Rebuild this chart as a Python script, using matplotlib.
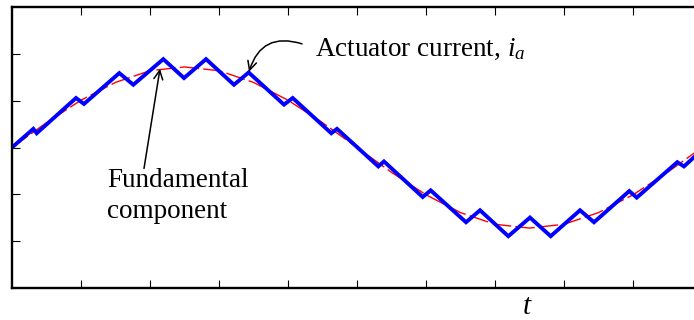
import matplotlib
matplotlib.use("Agg")
import matplotlib.pyplot as plt

plt.rcParams['font.family'] = ['Liberation Serif', 'DejaVu Serif']
plt.rcParams['mathtext.fontset'] = 'custom'
plt.rcParams['mathtext.rm'] = 'Liberation Serif'
plt.rcParams['mathtext.it'] = 'Liberation Serif:italic'

# hysteresis current (vertices)
t_cur = [0.0, 0.309, 0.358, 0.928, 1.043, 1.555, 1.758, 2.193, 2.493, 2.812,
         3.217, 3.430, 3.942, 4.068, 4.628, 4.710, 5.309, 5.391, 5.952, 6.068,
         6.580, 6.783, 7.193, 7.507, 7.807, 8.232, 8.435, 8.946, 9.054, 9.642,
         9.739, 10.0]
i_cur = [0.0, 0.398, 0.304, 1.057, 0.930, 1.589, 1.340, 1.887, 1.483, 1.887,
         1.340, 1.602, 0.915, 1.057, 0.304, 0.398, -0.404, -0.298, -1.057, -0.915,
         -1.596, -1.340, -1.894, -1.496, -1.894, -1.340, -1.596, -0.930, -1.070, -0.313,
         -0.404, -0.05]

# fundamental component (red dashed), read every half tick
t_fund = [0.0, 0.5, 1.0, 1.5, 2.0, 2.5, 3.0, 3.5, 4.0, 4.5, 5.0,
          5.5, 6.0, 6.5, 7.0, 7.5, 8.0, 8.5, 9.0, 9.5, 10.0]
i_fund = [0.0, 0.53, 1.01, 1.39, 1.64, 1.72, 1.64, 1.39, 1.01, 0.53, 0.0,
          -0.53, -1.01, -1.39, -1.64, -1.72, -1.64, -1.39, -1.01, -0.53, 0.0]

x_ticks = [1, 2, 3, 4, 5, 6, 7, 8, 9]
y_ticks = [-2, -1, 0, 1, 2]

fig = plt.figure(figsize=(6.94, 3.2), dpi=100)
ax = fig.add_axes([12 / 694, 32 / 320, 690 / 694, 281 / 320])

ax.plot(t_fund, i_fund, color='red', lw=1.0, dashes=(14, 3))
ax.plot(t_cur, i_cur, color='#0000ff', lw=2.8, solid_joinstyle='miter')

ax.set_xlim(0, 10)
ax.set_ylim(-3, 3)
ax.set_xticks(x_ticks)
ax.set_yticks(y_ticks)
ax.tick_params(direction='in', length=5.5, width=0.8, top=True, right=True,
               labelbottom=False, labelleft=False)
for sp in ax.spines.values():
    sp.set_linewidth(1.7)

# annotations
ax.annotate('', xy=(2.145, 1.681), xytext=(1.913, -0.447),
            arrowprops=dict(arrowstyle='->', color='black', lw=1.1,
                            mutation_scale=16, shrinkA=0, shrinkB=0))
ax.annotate('', xy=(3.435, 1.617), xytext=(4.203, 2.213),
            arrowprops=dict(arrowstyle='->', color='black', lw=1.1,
                            mutation_scale=16, shrinkA=0, shrinkB=0,
                            connectionstyle='arc3,rad=0.5'))

ax.text(4.391, 1.957, 'Actuator current, $i_a$', fontsize=19.5, va='baseline')
ax.text(1.377, -0.851, 'Fundamental', fontsize=19.5, va='baseline')
ax.text(1.377, -1.511, 'component', fontsize=19.5, va='baseline')
ax.text(7.464, -3.404, '$t$', fontsize=21, ha='center', va='center', clip_on=False)

fig.savefig('out.png', dpi=100)
